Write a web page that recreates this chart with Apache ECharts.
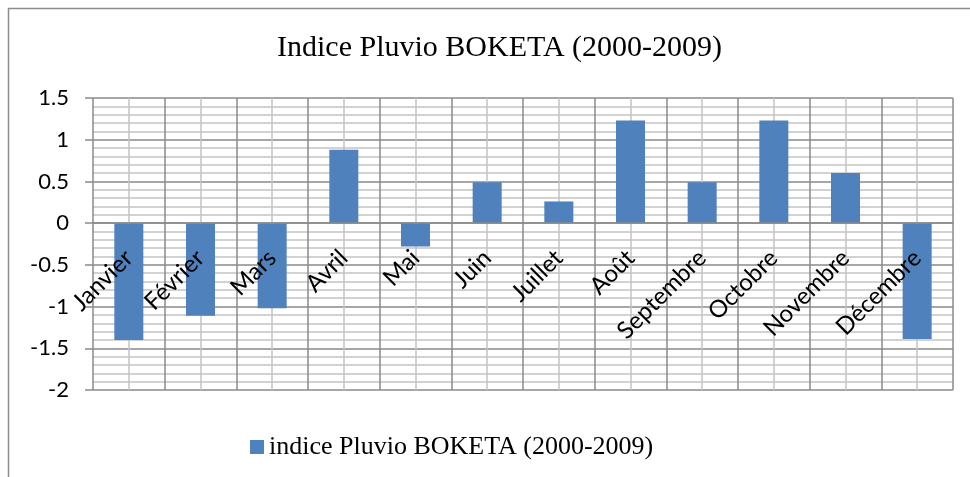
<!DOCTYPE html>
<html>
<head>
<meta charset="utf-8">
<script src="https://cdn.jsdelivr.net/npm/echarts@6/dist/echarts.min.js"></script>
<style>
html,body{margin:0;padding:0;background:#fff;}
#c{width:970px;height:477px;}
</style>
</head>
<body>
<div id="c"></div>
<script>
var chartTitle = 'Indice Pluvio BOKETA (2000-2009)';
var seriesName = 'indice Pluvio BOKETA (2000-2009)';
var categories = ['Janvier','Février','Mars','Avril','Mai','Juin','Juillet','Août','Septembre','Octobre','Novembre','Décembre'];
var values = [-1.40, -1.11, -1.02, 0.88, -0.28, 0.49, 0.26, 1.23, 0.49, 1.23, 0.60, -1.39];
var yMin = -2, yMax = 1.5, yStep = 0.5;

var W = 970, H = 477;
var chart = echarts.init(document.getElementById('c'), null, {renderer:'canvas', width: W, height: H});
var majorColor = '#8a8a8a';
var minorColor = '#c4c4c4';
var gridBox = {left: 93, right: 17, top: 98, bottom: 87, containLabel: false, outerBoundsMode: 'none'};
var plotH = H - gridBox.top - gridBox.bottom;
// move the category axis so it crosses the value axis at 0
var zeroOffset = -plotH * (0 - yMin) / (yMax - yMin);

chart.setOption({
  animation: false,
  backgroundColor: '#ffffff',
  graphic: [{
    type: 'rect', shape: {x: 8.5, y: 8.5, width: 1000, height: 500},
    style: {fill: 'none', stroke: '#8c8c8c', lineWidth: 1.5}, z: -10
  }],
  title: {
    text: chartTitle, left: 272, top: 28,
    textStyle: {fontFamily: 'Liberation Serif', fontSize: 30, fontWeight: 'normal', color: '#000'}
  },
  legend: {
    data: [seriesName], left: 245, top: 429,
    itemWidth: 14, itemHeight: 14, itemGap: 6,
    icon: 'rect',
    textStyle: {fontFamily: 'Liberation Serif', fontSize: 26, color: '#000', padding: [0,0,0,0]}
  },
  grid: [Object.assign({}, gridBox), Object.assign({}, gridBox)],
  xAxis: [{
    type: 'category', data: categories, gridIndex: 0,
    position: 'bottom', offset: zeroOffset, z: 5,
    axisLine: {onZero: false, lineStyle: {color: majorColor, width: 1.5}},
    axisTick: {show: false},
    splitLine: {show: false},
    axisLabel: {rotate: 45, margin: 31, fontFamily: 'Lato', fontSize: 24, color: '#000', interval: 0}
  }, {
    type: 'value', min: 0, max: 12, interval: 1, gridIndex: 1,
    axisLine: {show: false, onZero: false}, axisTick: {show: false}, axisLabel: {show: false},
    minorTick: {show: true, splitNumber: 2, length: 0},
    splitLine: {show: true, lineStyle: {color: majorColor, width: 1.5}},
    minorSplitLine: {show: true, lineStyle: {color: minorColor, width: 1.5}}
  }],
  yAxis: [{
    type: 'value', min: yMin, max: yMax, interval: yStep, gridIndex: 0,
    axisLine: {show: false, onZero: false},
    axisTick: {show: true, length: 8, lineStyle: {color: majorColor, width: 1.5}},
    axisLabel: {margin: 24, fontFamily: 'Lato', fontSize: 22, color: '#000'},
    minorTick: {show: false, splitNumber: 5},
    splitLine: {show: true, lineStyle: {color: majorColor, width: 1.5}},
    minorSplitLine: {show: true, lineStyle: {color: minorColor, width: 1.5}}
  }, {
    type: 'value', min: 0, max: 1, gridIndex: 1, show: false
  }],
  series: [{
    name: seriesName, type: 'bar', data: values,
    xAxisIndex: 0, yAxisIndex: 0, barWidth: 29,
    itemStyle: {color: '#4f81bd'}
  }]
});
</script>
</body>
</html>
